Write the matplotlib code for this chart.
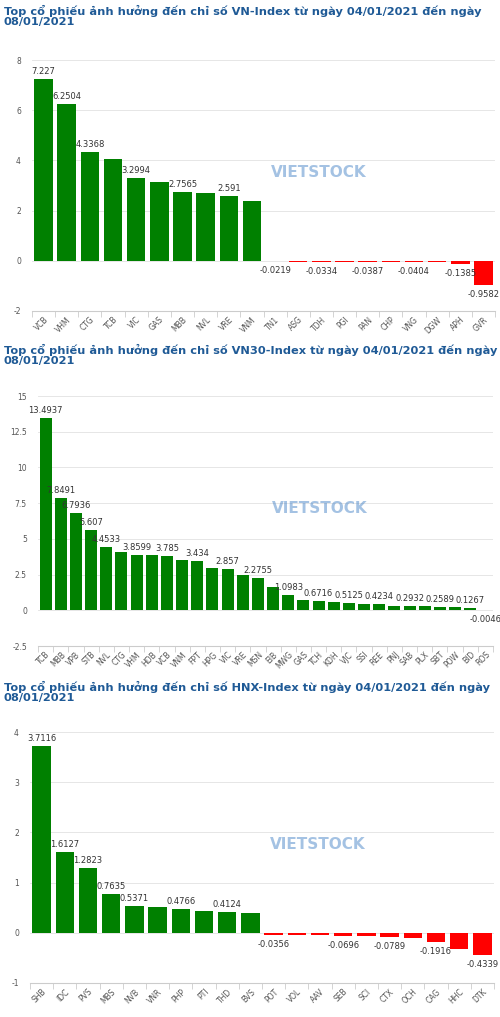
import matplotlib
matplotlib.use("Agg")
import matplotlib.pyplot as plt

t1 = "Top cổ phiếu ảnh hưởng đến chỉ số VN-Index từ ngày 04/01/2021 đến ngày\n08/01/2021"
c1 = ["VCB","VHM","CTG","TCB","VIC","GAS","MBB","NVL","VRE","VNM","TN1","ASG","TDH","PGI","PAN","CHP","VNG","DGW","APH","GVR"]
v1 = [7.227,6.2504,4.3368,4.05,3.2994,3.15,2.7565,2.7,2.591,2.38,-0.0219,-0.03,-0.0334,-0.035,-0.0387,-0.04,-0.0404,-0.045,-0.1385,-0.9582]
l1 = ["7.227","6.2504","4.3368","","3.2994","","2.7565","","2.591","","-0.0219","","-0.0334","","-0.0387","","-0.0404","","-0.1385","-0.9582"]
y1 = [-2, 0, 2, 4, 6, 8]

t2 = "Top cổ phiếu ảnh hưởng đến chỉ số VN30-Index từ ngày 04/01/2021 đến ngày\n08/01/2021"
c2 = ["TCB","MBB","VPB","STB","NVL","CTG","VHM","HDB","VCB","VNM","FPT","HPG","VIC","VRE","MSN","EIB","MWG","GAS","TCH","KDH","VJC","SSI","REE","PNJ","SAB","PLX","SBT","POW","BID","ROS"]
v2 = [13.4937,7.8491,6.7936,5.607,4.4533,4.1,3.8599,3.85,3.785,3.55,3.434,2.98,2.857,2.5,2.2755,1.6,1.0983,0.75,0.6716,0.55,0.5125,0.47,0.4234,0.33,0.2932,0.27,0.2589,0.25,0.1267,-0.0046]
l2 = ["13.4937","7.8491","6.7936","5.607","4.4533","","3.8599","","3.785","","3.434","","2.857","","2.2755","","1.0983","","0.6716","","0.5125","","0.4234","","0.2932","","0.2589","","0.1267","-0.0046"]
y2 = [-2.5, 0, 2.5, 5, 7.5, 10, 12.5, 15]
y2l = ["-2.5","0","2.5","5","7.5","10","12.5","15"]

t3 = "Top cổ phiếu ảnh hưởng đến chỉ số HNX-Index từ ngày 04/01/2021 đến ngày\n08/01/2021"
c3 = ["SHB","IDC","PVS","MBS","NVB","VNR","PHP","PTI","THD","BVS","POT","VOL","AAV","SEB","SCI","CTX","OCH","CAG","HHC","DTK"]
v3 = [3.7116,1.6127,1.2823,0.7635,0.5371,0.52,0.4766,0.43,0.4124,0.4,-0.0356,-0.04,-0.045,-0.0696,-0.07,-0.0789,-0.11,-0.1916,-0.33,-0.4339]
l3 = ["3.7116","1.6127","1.2823","0.7635","0.5371","","0.4766","","0.4124","","-0.0356","","","-0.0696","","-0.0789","","-0.1916","","-0.4339"]
y3 = [-1, 0, 1, 2, 3, 4]

W, H = 500, 1017
fig = plt.figure(figsize=(W/100, H/100), dpi=100)
plt.rcParams['font.family'] = ['DejaVu Sans']

def panel(title, ty, cats, vals, labs, yt, ytl, box):
    fig.text(4/W, 1 - ty/H, title, fontsize=8.2, fontweight='bold', color='#1f5a96',
             va='top', ha='left', linespacing=1.05)
    x0, y0, x1, y1_ = box
    ax = fig.add_axes([x0/W, 1 - y1_/H, (x1-x0)/W, (y1_-y0)/H])
    n = len(cats)
    xs = list(range(n))
    cols = ['#008000' if v >= 0 else '#ff0000' for v in vals]
    ax.bar(xs, vals, width=0.8, color=cols, zorder=2)
    ax.set_xlim(-0.5, n - 0.5)
    ax.set_ylim(yt[0], yt[-1])
    ax.set_yticks(yt)
    ax.set_yticklabels(ytl if ytl else [str(t) for t in yt])
    ax.grid(axis='y', color='#e6e6e6', lw=0.7, zorder=0)
    for s in ['top', 'right', 'left']:
        ax.spines[s].set_visible(False)
    ax.spines['bottom'].set_color('#cccccc')
    ax.tick_params(axis='y', length=0, labelsize=5.5, colors='#555555', pad=8)
    ax.set_xticks(xs)
    ax.set_xticklabels(cats, rotation=45, ha='right', rotation_mode='anchor', fontsize=5.5, color='#555555')
    ax.set_xticks([i - 0.5 for i in range(n + 1)], minor=True)
    ax.tick_params(axis='x', which='major', length=0, pad=3)
    ax.tick_params(axis='x', which='minor', length=4, color='#cccccc')
    rng = yt[-1] - yt[0]
    for x, v, l in zip(xs, vals, labs):
        if not l:
            continue
        if v >= 0:
            ax.text(x, v + rng * 0.012, l, ha='center', va='bottom', fontsize=6, color='#333333', zorder=3)
        else:
            ax.text(x, v - rng * 0.02, l, ha='center', va='top', fontsize=6, color='#333333', zorder=3)
    ax.text(0.62, 0.55, "VIETSTOCK", transform=ax.transAxes, fontsize=11, fontweight='bold',
            color='#4a86c8', alpha=0.5, ha='center', va='center', zorder=4)
    return ax

panel(t1, 5, c1, v1, l1, y1, None, (32, 60, 495, 311))
panel(t2, 344, c2, v2, l2, y2, y2l, (38, 396, 493, 646))
panel(t3, 681, c3, v3, l3, y3, None, (30, 732, 494, 983))

fig.savefig("out.png", dpi=100, facecolor='white')
